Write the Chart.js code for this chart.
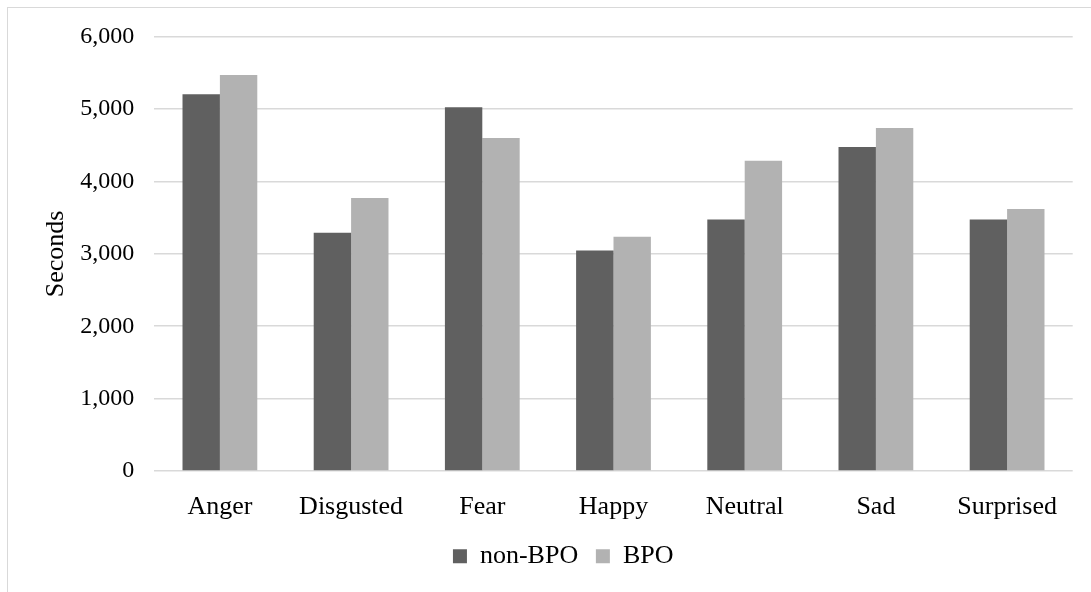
<!DOCTYPE html>
<html>
<head>
<meta charset="utf-8">
<script src="https://cdn.jsdelivr.net/npm/chart.js@4"></script>
<style>
  html, body { margin: 0; padding: 0; background: #fff; overflow: hidden; }
  #wrap { position: absolute; left: 0; top: 0; width: 1091px; height: 592px; }
  #frame { position: absolute; left: 7px; top: 7px; width: 1200px; height: 700px; border: 1.5px solid #d9d9d9; box-sizing: border-box; }
  canvas { position: absolute; left: 0; top: 0; }
</style>
</head>
<body>
<div id="wrap">
  <div id="frame"></div>
  <canvas id="c" width="1091" height="592"></canvas>
</div>
<script>
const categories = ["Anger", "Disgusted", "Fear", "Happy", "Neutral", "Sad", "Surprised"];
const nonBPO = [5205, 3290, 5025, 3045, 3475, 4475, 3475];
const BPO = [5470, 3770, 4600, 3235, 4285, 4740, 3620];
const seriesNames = ["non-BPO", "BPO"];
const yAxisTitle = "Seconds";

const FONT = "'Liberation Serif', 'Times New Roman', serif";

const legendShift = {
  id: 'legendShift',
  afterLayout(chart) {
    if (chart.legend) {
      chart.legend.left += 26.85;
      chart.legend.right += 26.85;
    }
  }
};

new Chart(document.getElementById('c'), {
  type: 'bar',
  data: {
    labels: categories,
    datasets: [
      { label: seriesNames[0], data: nonBPO, backgroundColor: '#606060', borderWidth: 0 },
      { label: seriesNames[1], data: BPO, backgroundColor: '#b2b2b2', borderWidth: 0 }
    ]
  },
  plugins: [legendShift],
  options: {
    responsive: false,
    animation: false,
    devicePixelRatio: 1,
    layout: { padding: { left: 0, right: 18.3, top: 36.7, bottom: 12.7 } },
    datasets: { bar: { barPercentage: 1, categoryPercentage: 0.57 } },
    plugins: {
      tooltip: { enabled: false },
      legend: {
        position: 'bottom',
        labels: {
          boxWidth: 14, boxHeight: 14, padding: 17.7,
          color: '#000',
          font: { family: FONT, size: 26 }
        }
      }
    },
    scales: {
      x: {
        grid: { display: false },
        border: { display: false },
        ticks: { color: '#000', font: { family: FONT, size: 26 }, padding: 13, maxRotation: 0 },
        afterFit: (s) => { s.height = 54.6; }
      },
      y: {
        min: 0, max: 6000,
        grid: { color: '#d9d9d9', lineWidth: 1.5, drawTicks: false },
        border: { display: false },
        ticks: {
          stepSize: 1000, color: '#000', padding: 20,
          font: { family: FONT, size: 24 },
          callback: (v) => v.toLocaleString('en-US')
        },
        title: {
          display: true, text: yAxisTitle, color: '#000',
          font: { family: FONT, size: 26 },
          padding: { top: 41, bottom: 0 }
        },
        afterFit: (s) => { s.width = 154.3; }
      }
    }
  }
});
</script>
</body>
</html>
